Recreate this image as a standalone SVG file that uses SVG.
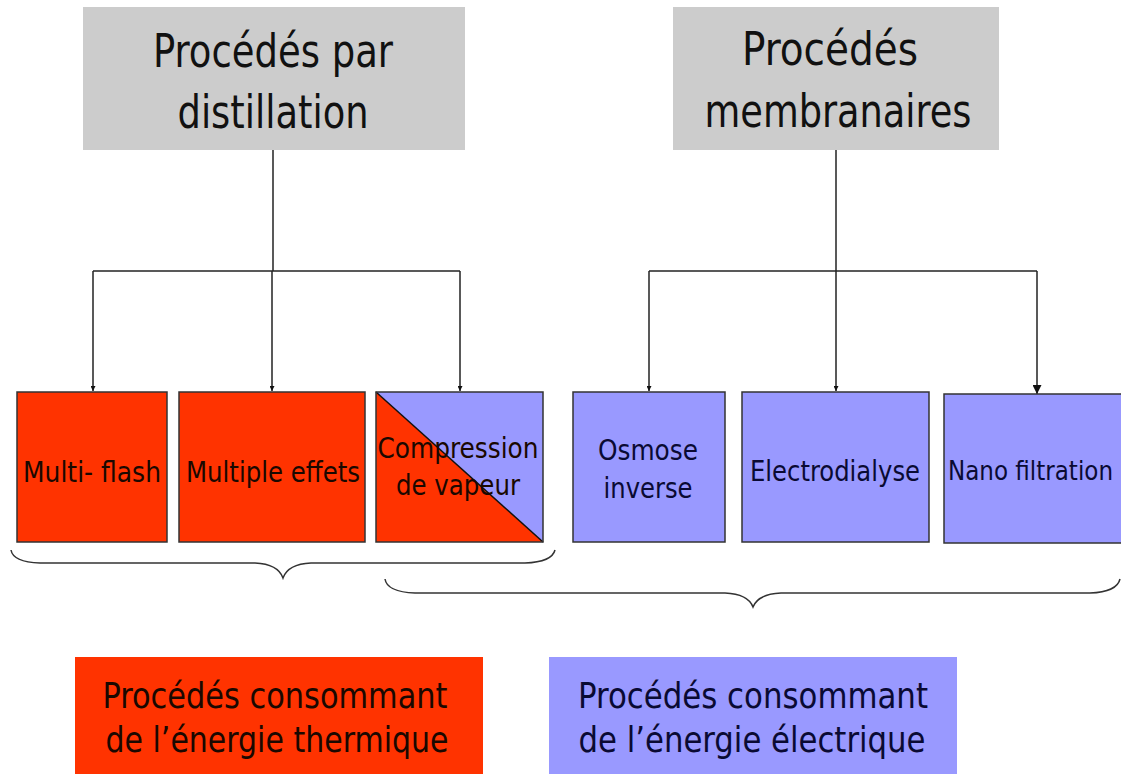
<svg xmlns="http://www.w3.org/2000/svg" width="1121" height="774" viewBox="0 0 1121 774">
<defs>
<style>
.t{font-family:"DejaVu Sans Condensed","DejaVu Sans",sans-serif;text-anchor:middle;}
.title{font-size:46px;fill:#111;}
.lbl{font-size:29px;fill:#1a0800;}
.lblb{font-size:29px;fill:#0a0a33;}
.big{font-size:36px;}
.red{fill:#ff3300;}
.blue{fill:#9999ff;}
.gray{fill:#cccccc;}
.bx{stroke:#333;stroke-width:1.5;}
.ln{fill:none;stroke:#222;stroke-width:1.5;}
.br{fill:none;stroke:#333;stroke-width:1.5;}
</style>
<marker id="ah" viewBox="0 0 10 10" refX="10" refY="5" markerWidth="5" markerHeight="5" orient="auto" markerUnits="userSpaceOnUse">
<path d="M0,0 L10,5 L0,10 z" fill="#111"/>
</marker>
<marker id="ahL" viewBox="0 0 10 10" refX="10" refY="5" markerWidth="9" markerHeight="9" orient="auto" markerUnits="userSpaceOnUse">
<path d="M0,0 L10,5 L0,10 z" fill="#111"/>
</marker>
</defs>
<rect width="1121" height="774" fill="#ffffff"/>

<g id="distillation">
<rect class="gray" x="83" y="7" width="382" height="143"/>
<text class="t title" x="273" y="67" textLength="240" lengthAdjust="spacingAndGlyphs">Procédés par</text>
<text class="t title" x="273" y="128" textLength="191" lengthAdjust="spacingAndGlyphs">distillation</text>
</g>

<g id="membranaires">
<rect class="gray" x="673" y="7" width="326" height="143"/>
<text class="t title" x="830" y="65" textLength="176" lengthAdjust="spacingAndGlyphs">Procédés</text>
<text class="t title" x="838" y="127" textLength="267" lengthAdjust="spacingAndGlyphs">membranaires</text>
</g>

<g id="connectors">
<path class="ln" d="M273,150 V271"/>
<path class="ln" d="M93,271 H460"/>
<path class="ln" d="M93,271 V391" marker-end="url(#ah)"/>
<path class="ln" d="M272,271 V391" marker-end="url(#ah)"/>
<path class="ln" d="M460,271 V391" marker-end="url(#ah)"/>
<path class="ln" d="M836,150 V271"/>
<path class="ln" d="M649,271 H1037"/>
<path class="ln" d="M649,271 V391" marker-end="url(#ah)"/>
<path class="ln" d="M836,271 V391" marker-end="url(#ah)"/>
<path class="ln" d="M1037,271 V394" marker-end="url(#ahL)"/>
</g>

<g id="multiflash">
<rect class="red bx" x="17" y="392" width="150" height="150"/>
<text class="t lbl" x="92" y="482" textLength="138" lengthAdjust="spacingAndGlyphs">Multi- flash</text>
</g>

<g id="multipleeffets">
<rect class="red bx" x="179" y="392" width="186" height="150"/>
<text class="t lbl" x="273" y="482" textLength="174" lengthAdjust="spacingAndGlyphs">Multiple effets</text>
</g>

<g id="compression">
<polygon class="blue" points="376,392 543,392 543,542"/>
<polygon class="red" points="376,392 543,542 376,542"/>
<line x1="376" y1="392" x2="543" y2="542" stroke="#111" stroke-width="1.5"/>
<rect x="376" y="392" width="167" height="150" fill="none" class="bx"/>
<text class="t lbl" x="458" y="458" textLength="161" lengthAdjust="spacingAndGlyphs">Compression</text>
<text class="t lbl" x="458" y="495" textLength="124" lengthAdjust="spacingAndGlyphs">de vapeur</text>
</g>

<g id="osmose">
<rect class="blue bx" x="573" y="392" width="152" height="150"/>
<text class="t lblb" x="648" y="460" textLength="100" lengthAdjust="spacingAndGlyphs">Osmose</text>
<text class="t lblb" x="648" y="498" textLength="89" lengthAdjust="spacingAndGlyphs">inverse</text>
</g>

<g id="electrodialyse">
<rect class="blue bx" x="742" y="392" width="187" height="150"/>
<text class="t lblb" x="835" y="481" textLength="170" lengthAdjust="spacingAndGlyphs">Electrodialyse</text>
</g>

<g id="nanofiltration">
<rect class="blue bx" x="944" y="394" width="190" height="149"/>
<text fill="#0a0a33" style="font-family:'DejaVu Sans Condensed','DejaVu Sans',sans-serif;font-size:26px" x="948" y="480" textLength="165" lengthAdjust="spacingAndGlyphs">Nano filtration</text>
</g>

<g id="braces">
<path class="br" d="M11,550 Q13,562 40,563 L255,563 Q278,564 283,578 Q288,564 311,563 L525,563 Q552,562 555,550"/>
<path class="br" d="M385,579 Q387,592 415,593 L725,593 Q748,594 753,607 Q758,594 781,593 L1090,593 Q1117,592 1120,579"/>
</g>

<g id="thermique">
<rect class="red" x="75" y="657" width="408" height="117"/>
<text class="t big" fill="#1a0800" x="275" y="708" textLength="345" lengthAdjust="spacingAndGlyphs">Procédés consommant</text>
<text class="t big" fill="#1a0800" x="277" y="752" textLength="343" lengthAdjust="spacingAndGlyphs">de l’énergie thermique</text>
</g>

<g id="electrique">
<rect class="blue" x="549" y="657" width="408" height="117"/>
<text class="t big" fill="#0a0a33" x="753" y="708" textLength="350" lengthAdjust="spacingAndGlyphs">Procédés consommant</text>
<text class="t big" fill="#0a0a33" x="752" y="752" textLength="347" lengthAdjust="spacingAndGlyphs">de l’énergie électrique</text>
</g>
</svg>
